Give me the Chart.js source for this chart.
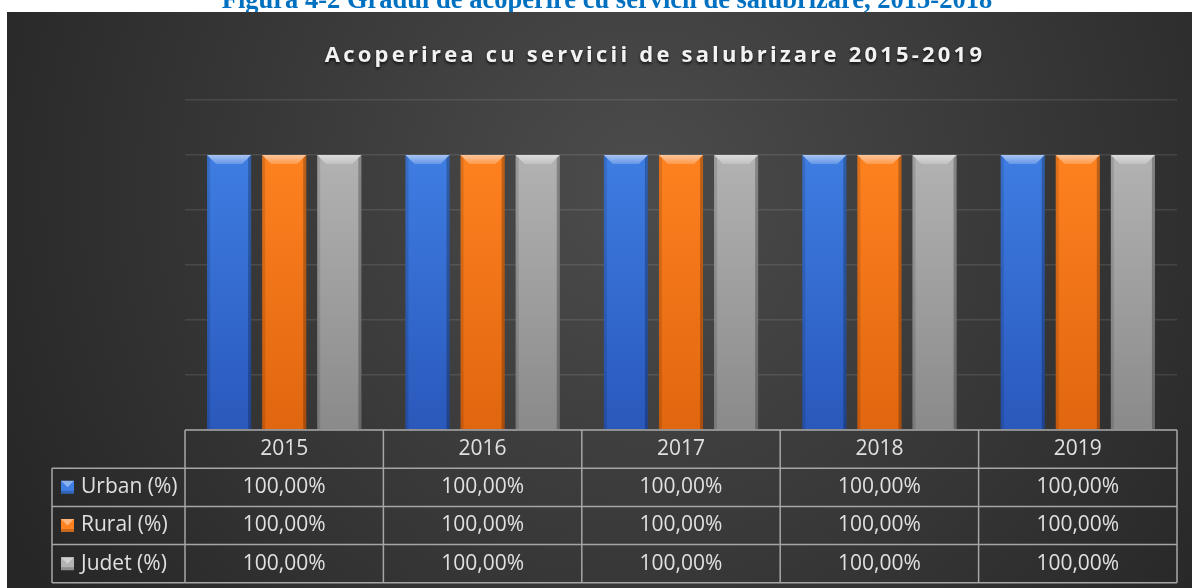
<!DOCTYPE html>
<html>
<head>
<meta charset="utf-8">
<script src="https://cdn.jsdelivr.net/npm/chart.js@4.4.1/dist/chart.umd.min.js"></script>
<style>
html, body { margin: 0; padding: 0; background: #fff; }
</style>
</head>
<body>
<canvas id="myChart" width="1192" height="588"></canvas>
<script>
// categories along the x-axis
var years = ['2015', '2016', '2017', '2018', '2019'];
// series values, in %
var urban = [100, 100, 100, 100, 100];
var rural = [100, 100, 100, 100, 100];
var judet = [100, 100, 100, 100, 100];
var seriesNames = ['Urban (%)', 'Rural (%)', 'Judet (%)'];
var caption = 'Figura 4-2 Gradul de acoperire cu servicii de salubrizare, 2015-2018';
var titleText = 'Acoperirea cu servicii de salubrizare 2015-2019';

// top / bottom colour of each series
var tops = ['#3f7ee3', '#ff8220', '#b3b3b3'];
var bottoms = ['#2a58bb', '#e0660f', '#8a8a8a'];

function barFill(i) {
  return function(ctx) {
    var a = ctx.chart.chartArea;
    if (!a) return tops[i];
    var g = ctx.chart.ctx.createLinearGradient(0, a.top + 50, 0, a.bottom);
    g.addColorStop(0, tops[i]);
    g.addColorStop(1, bottoms[i]);
    return g;
  };
}

function fmt(v) {
  return v.toFixed(2).replace('.', ',') + '%';
}

// dark background, caption and title
var backdrop = {
  id: 'backdrop',
  beforeDraw: function(chart) {
    var c = chart.ctx, w = chart.width, h = chart.height;
    c.save();
    c.fillStyle = '#fff';
    c.fillRect(0, 0, w, h);
    c.font = 'bold 26.5px "Liberation Serif", "Times New Roman", serif';
    c.fillStyle = '#0070c0';
    c.textAlign = 'center';
    c.textBaseline = 'alphabetic';
    c.fillText(caption, 607, 8);
    var g = c.createRadialGradient(640, 190, 0, 640, 190, 720);
    g.addColorStop(0, '#4c4c4c');
    g.addColorStop(1, '#262626');
    c.fillStyle = g;
    c.fillRect(7, 12, w - 7, h - 12);
    c.font = 'bold 22px "Open Sans", sans-serif';
    c.letterSpacing = '3.2px';
    c.shadowColor = 'rgba(0,0,0,0.7)';
    c.shadowBlur = 3;
    c.shadowOffsetY = 1.5;
    c.fillStyle = '#f2f2f2';
    c.fillText(titleText, 655, 62);
    c.restore();
  }
};

// bevel look on top of the bars
var bevel = {
  id: 'bevel',
  afterDatasetsDraw: function(chart) {
    var c = chart.ctx;
    chart.data.datasets.forEach(function(ds, i) {
      chart.getDatasetMeta(i).data.forEach(function(bar) {
        var p = bar.getProps(['x', 'y', 'base', 'width'], true);
        var l = p.x - p.width / 2, r = p.x + p.width / 2, t = p.y, b = p.base, d = 9;
        c.save();
        var g = c.createLinearGradient(0, t, 0, t + d);
        g.addColorStop(0, 'rgba(255,255,255,0.55)');
        g.addColorStop(1, 'rgba(255,255,255,0.2)');
        c.fillStyle = g;
        c.beginPath();
        c.moveTo(l, t); c.lineTo(r, t); c.lineTo(r - d, t + d); c.lineTo(l + d, t + d);
        c.closePath(); c.fill();
        c.fillStyle = 'rgba(0,0,0,0.12)';
        c.beginPath();
        c.moveTo(l, t); c.lineTo(l + 3, t + 3); c.lineTo(l + 3, b); c.lineTo(l, b);
        c.closePath(); c.fill();
        c.fillStyle = 'rgba(0,0,0,0.25)';
        c.beginPath();
        c.moveTo(r, t); c.lineTo(r - 3, t + 3); c.lineTo(r - 3, b); c.lineTo(r, b);
        c.closePath(); c.fill();
        c.restore();
      });
    });
  }
};

// data table under the plot
var dataTable = {
  id: 'dataTable',
  afterDraw: function(chart) {
    var c = chart.ctx, xs = chart.scales.x, area = chart.chartArea;
    var half = (xs.getPixelForValue(1) - xs.getPixelForValue(0)) / 2;
    var left = area.left, right = area.right, top = area.bottom;
    var rowH = 38.2, legLeft = 52;
    var rows = [urban, rural, judet];
    var bottom = top + rowH * 4;
    c.save();
    c.strokeStyle = '#a6a6a6';
    c.lineWidth = 1.5;
    c.beginPath();
    c.moveTo(left, top); c.lineTo(right, top);
    for (var k = 1; k <= 4; k++) {
      c.moveTo(legLeft, top + rowH * k); c.lineTo(right, top + rowH * k);
    }
    c.moveTo(legLeft, top + rowH); c.lineTo(legLeft, bottom);
    c.moveTo(left, top); c.lineTo(left, bottom);
    for (var j = 0; j < years.length; j++) {
      var xr = xs.getPixelForValue(j) + half;
      c.moveTo(xr, top); c.lineTo(xr, bottom);
    }
    c.stroke();

    c.font = '21px "Open Sans", sans-serif';
    c.fillStyle = '#e0e0e0';
    c.textAlign = 'center';
    c.textBaseline = 'middle';
    years.forEach(function(y, j) {
      c.fillText(y, xs.getPixelForValue(j), top + rowH / 2);
    });
    rows.forEach(function(vals, i) {
      var cy = top + rowH * (i + 1.5);
      vals.forEach(function(v, j) {
        c.fillText(fmt(v), xs.getPixelForValue(j), cy);
      });
    });
    c.textAlign = 'left';
    seriesNames.forEach(function(name, i) {
      var cy = top + rowH * (i + 1.5);
      var sx = 61, sy = cy - 6.5, s = 13;
      c.fillStyle = tops[i];
      c.fillRect(sx, sy, s, s);
      c.fillStyle = 'rgba(255,255,255,0.4)';
      c.beginPath();
      c.moveTo(sx, sy); c.lineTo(sx + s, sy); c.lineTo(sx + s / 2, sy + s / 2);
      c.closePath(); c.fill();
      c.fillStyle = 'rgba(0,0,0,0.2)';
      c.fillRect(sx, sy + s - 3, s, 3);
      c.fillStyle = '#e0e0e0';
      c.fillText(name, 81, cy);
    });
    c.restore();
  }
};

var ctx = document.getElementById('myChart');
var myChart = new Chart(ctx, {
  type: 'bar',
  data: {
    labels: years,
    datasets: [
      { label: seriesNames[0], data: urban, backgroundColor: barFill(0) },
      { label: seriesNames[1], data: rural, backgroundColor: barFill(1) },
      { label: seriesNames[2], data: judet, backgroundColor: barFill(2) }
    ]
  },
  options: {
    responsive: false,
    animation: false,
    barPercentage: 0.8,
    categoryPercentage: 0.833,
    layout: { padding: { left: 185, right: 15, top: 100, bottom: 158 } },
    plugins: {
      legend: { display: false },
      title: { display: false },
      tooltip: { enabled: false }
    },
    scales: {
      x: { display: false },
      y: {
        min: 0,
        max: 120,
        ticks: { display: false, stepSize: 20 },
        border: { display: false },
        grid: { color: 'rgba(255,255,255,0.1)', lineWidth: 1.5, drawTicks: false }
      }
    }
  },
  plugins: [backdrop, bevel, dataTable]
});
</script>
</body>
</html>
